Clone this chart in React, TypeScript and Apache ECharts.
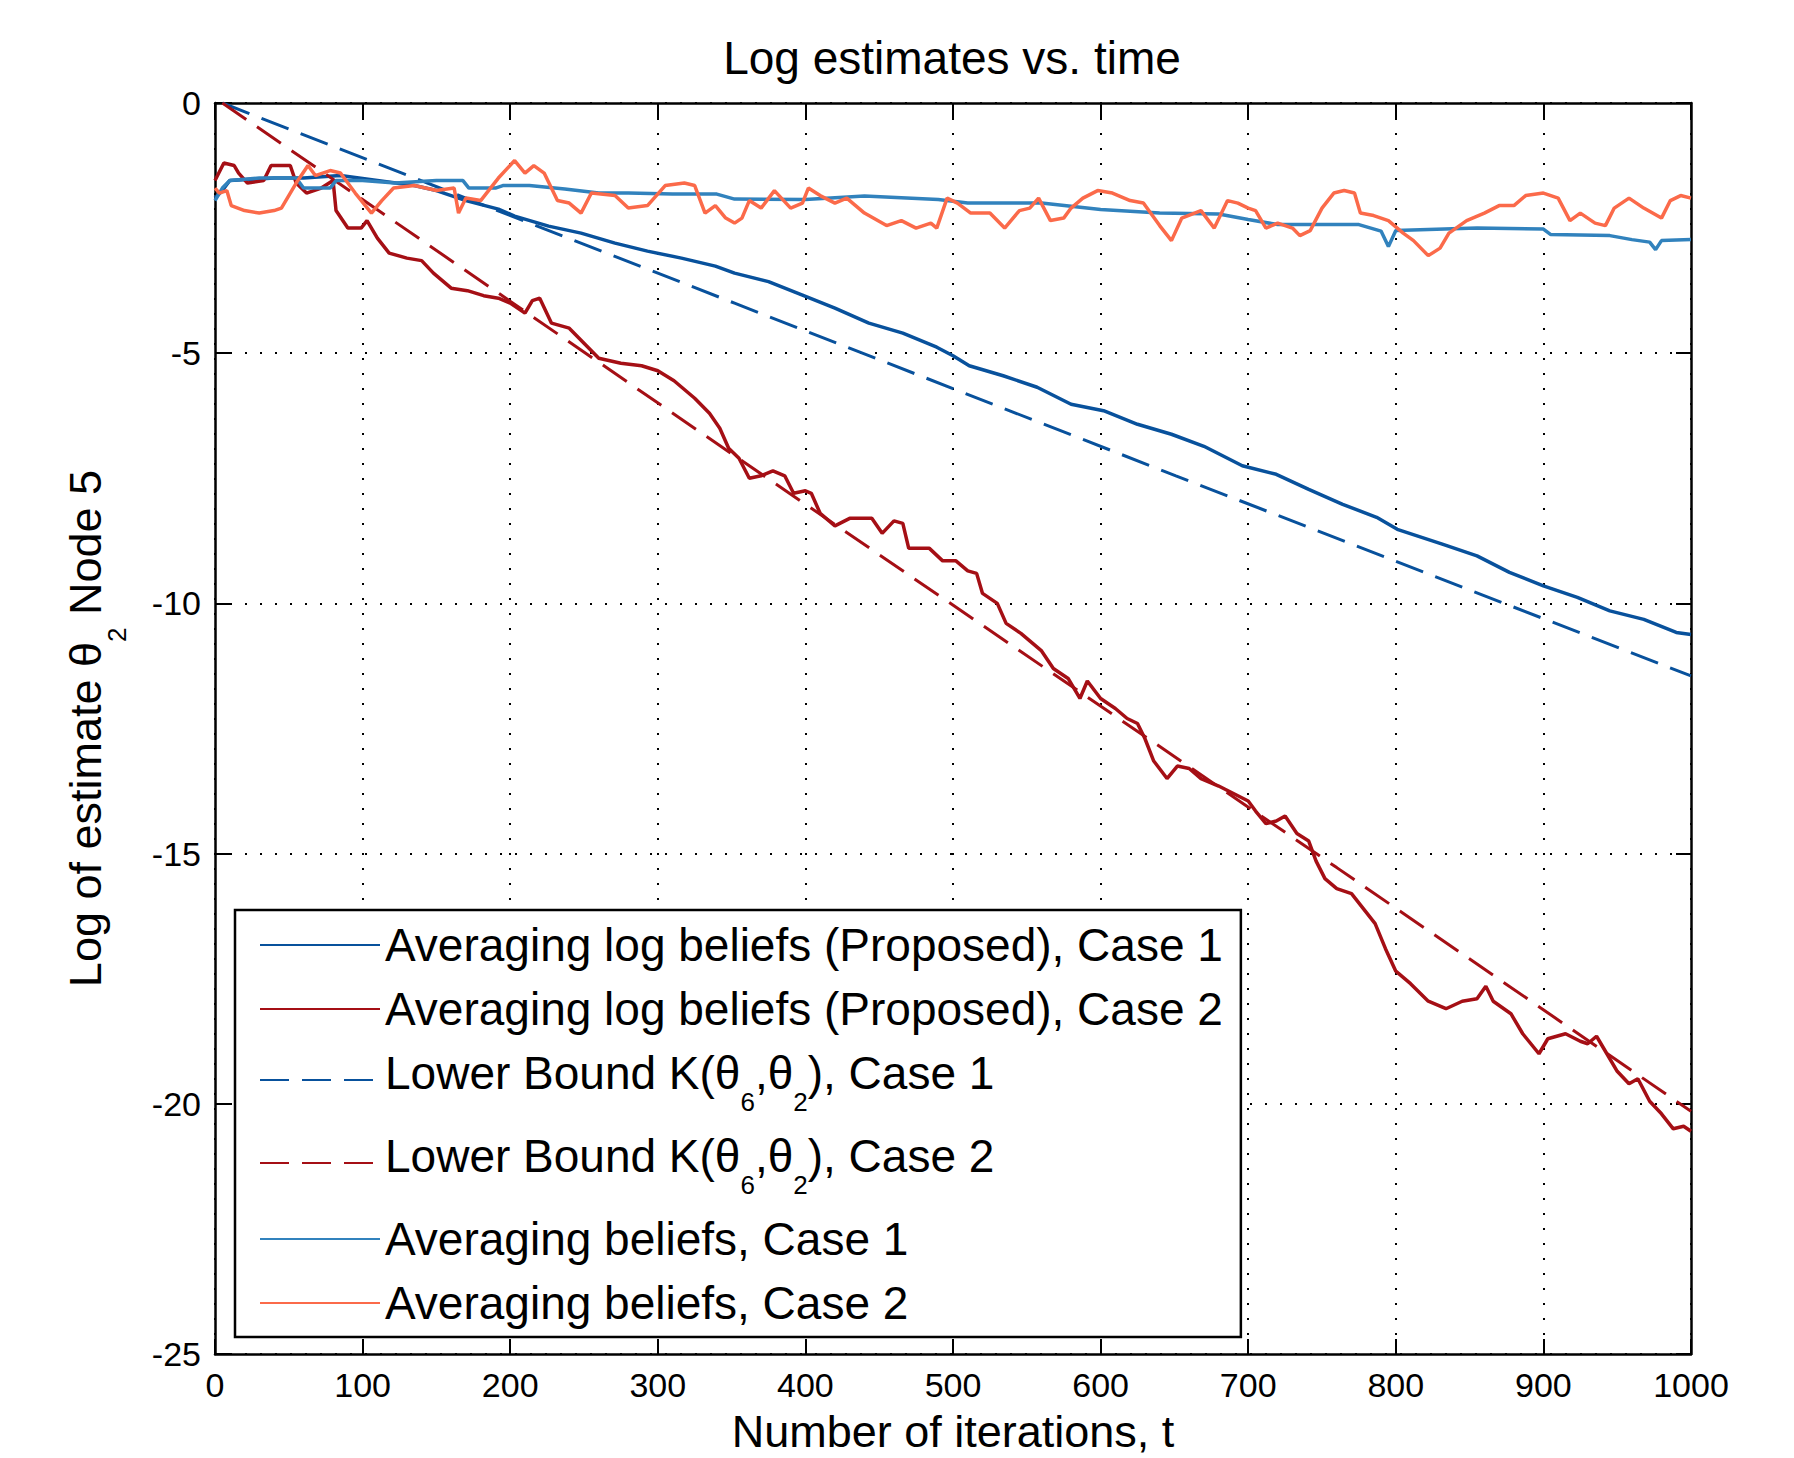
import React, { useEffect, useRef } from "react";
import * as echarts from "echarts";

const TITLE = "Log estimates vs. time";
const X_NAME = "Number of iterations, t";
const Y_NAME = "{m|Log of estimate θ}{s|2}{m| Node 5}";

const X_MIN = 0;
const X_MAX = 1000;
const X_STEP = 100;
const Y_MIN = -25;
const Y_MAX = 0;
const Y_STEP = 5;

const NAMES = [
  "Averaging log beliefs (Proposed), Case 1",
  "Averaging log beliefs (Proposed), Case 2",
  "Lower Bound K(θ6,θ2), Case 1",
  "Lower Bound K(θ6,θ2), Case 2",
  "Averaging beliefs, Case 1",
  "Averaging beliefs, Case 2",
];

const LEGEND_RICH: Record<string, string> = {
  [NAMES[0]]: "{m|Averaging log beliefs (Proposed), Case 1}",
  [NAMES[1]]: "{m|Averaging log beliefs (Proposed), Case 2}",
  [NAMES[2]]: "{n|Lower Bound K(θ}{s|6}{n|,θ}{s|2}{n|), Case 1}",
  [NAMES[3]]: "{n|Lower Bound K(θ}{s|6}{n|,θ}{s|2}{n|), Case 2}",
  [NAMES[4]]: "{m|Averaging beliefs, Case 1}",
  [NAMES[5]]: "{m|Averaging beliefs, Case 2}",
};

const COLORS = ["#08519c", "#a50f15", "#08519c", "#a50f15", "#3182bd", "#fb6a4a"];

// Averaging log beliefs (Proposed), Case 1
const logBeliefsCase1: [number, number][] = [
  [0, -1.9], [5, -1.75], [10, -1.55], [40, -1.5], [60, -1.5], [85, -1.45], [110, -1.55],
  [135, -1.65], [150, -1.75], [170, -1.95], [192, -2.12], [203, -2.26], [226, -2.46],
  [248, -2.6], [271, -2.8], [293, -2.96], [316, -3.1], [339, -3.26], [352, -3.4],
  [375, -3.57], [398, -3.84], [420, -4.1], [443, -4.4], [466, -4.6], [489, -4.88],
  [500, -5.05], [511, -5.25], [534, -5.45], [557, -5.68], [580, -6.02], [602, -6.15],
  [625, -6.42], [648, -6.62], [670, -6.86], [676, -6.95], [696, -7.25], [719, -7.42],
  [741, -7.72], [764, -8.02], [787, -8.28], [801, -8.52], [832, -8.82], [855, -9.05],
  [877, -9.38], [900, -9.65], [923, -9.88], [945, -10.15], [968, -10.32], [990, -10.58],
  [1000, -10.62],
];

// Averaging log beliefs (Proposed), Case 2
const logBeliefsCase2: [number, number][] = [
  [0, -1.55], [6, -1.2], [13, -1.25], [16, -1.4], [22, -1.6], [33, -1.55], [38, -1.25],
  [51, -1.25], [55, -1.6], [62, -1.8], [67, -1.75], [72, -1.7], [80, -1.55], [82, -2.15],
  [90, -2.5], [99, -2.5], [103, -2.35], [110, -2.7], [118, -3.0], [130, -3.1], [140, -3.15],
  [148, -3.4], [160, -3.7], [171, -3.75], [182, -3.85], [192, -3.9], [200, -4.0],
  [210, -4.2], [215, -3.95], [220, -3.9], [228, -4.4], [240, -4.5], [250, -4.8],
  [260, -5.1], [275, -5.2], [289, -5.25], [300, -5.35], [311, -5.55], [325, -5.9],
  [335, -6.2], [342, -6.5], [348, -6.9], [355, -7.1], [362, -7.5], [370, -7.45],
  [378, -7.35], [386, -7.45], [392, -7.8], [400, -7.75], [404, -7.8], [410, -8.2],
  [420, -8.45], [430, -8.3], [445, -8.3], [452, -8.6], [460, -8.35], [466, -8.4],
  [470, -8.9], [484, -8.9], [493, -9.15], [502, -9.15], [510, -9.35], [516, -9.4],
  [520, -9.8], [530, -10.0], [536, -10.4], [546, -10.6], [552, -10.75], [560, -10.95],
  [568, -11.3], [578, -11.5], [586, -11.9], [591, -11.55], [600, -11.9], [610, -12.1],
  [618, -12.3], [625, -12.4], [630, -12.7], [636, -13.15], [645, -13.5], [652, -13.25],
  [660, -13.3], [668, -13.5], [680, -13.65], [690, -13.8], [700, -13.95], [705, -14.15],
  [712, -14.4], [719, -14.35], [725, -14.25], [733, -14.6], [741, -14.75], [746, -15.15],
  [752, -15.5], [760, -15.7], [770, -15.8], [778, -16.1], [786, -16.4], [793, -16.9],
  [800, -17.35], [810, -17.6], [822, -17.95], [834, -18.1], [845, -17.95], [855, -17.9],
  [861, -17.65], [866, -17.95], [878, -18.2], [886, -18.6], [897, -19.0], [903, -18.7],
  [915, -18.6], [925, -18.75], [930, -18.8], [936, -18.65], [943, -19.0], [950, -19.35],
  [958, -19.6], [964, -19.5], [972, -19.95], [980, -20.2], [988, -20.5], [995, -20.45],
  [1000, -20.55],
];

// Lower Bound K(θ6,θ2), Case 1
const boundCase1: [number, number][] = [
  [5, 0], [352, -4.0], [651, -7.45], [1000, -11.45],
];

// Lower Bound K(θ6,θ2), Case 2
const boundCase2: [number, number][] = [
  [5, 0], [352, -7.05], [760, -15.28], [1000, -20.15],
];

// Averaging beliefs, Case 1
const beliefsCase1: [number, number][] = [
  [0, -1.95], [5, -1.7], [10, -1.55], [30, -1.5], [55, -1.5], [60, -1.7], [78, -1.7],
  [82, -1.55], [100, -1.55], [122, -1.6], [150, -1.55], [168, -1.55], [172, -1.7],
  [190, -1.7], [195, -1.65], [213, -1.65], [237, -1.72], [260, -1.8], [280, -1.8],
  [310, -1.82], [340, -1.82], [352, -1.92], [400, -1.93], [440, -1.86], [490, -1.93],
  [510, -2.0], [560, -2.0], [600, -2.13], [640, -2.2], [680, -2.22], [700, -2.33],
  [720, -2.43], [775, -2.43], [790, -2.56], [795, -2.87], [800, -2.55], [855, -2.5],
  [900, -2.52], [905, -2.63], [945, -2.65], [960, -2.73], [972, -2.78], [976, -2.93],
  [980, -2.75], [1000, -2.73],
];

// Averaging beliefs, Case 2
const beliefsCase2: [number, number][] = [
  [0, -1.7], [3, -1.8], [8, -1.75], [11, -2.05], [20, -2.15], [30, -2.2], [40, -2.15],
  [45, -2.1], [55, -1.6], [63, -1.25], [68, -1.45], [78, -1.35], [85, -1.4], [95, -1.8],
  [106, -2.2], [113, -1.95], [121, -1.7], [135, -1.65], [150, -1.75], [162, -1.7],
  [165, -2.2], [170, -1.9], [180, -1.95], [192, -1.5], [203, -1.15], [210, -1.4],
  [216, -1.25], [223, -1.4], [232, -1.95], [240, -2.0], [248, -2.2], [255, -1.8],
  [271, -1.85], [280, -2.1], [293, -2.05], [305, -1.65], [318, -1.6], [325, -1.65],
  [332, -2.2], [339, -2.05], [346, -2.3], [352, -2.4], [357, -2.3], [362, -1.95],
  [370, -2.1], [379, -1.75], [390, -2.1], [398, -2.0], [402, -1.7], [410, -1.85],
  [420, -2.0], [428, -1.9], [440, -2.2], [455, -2.45], [465, -2.35], [475, -2.5],
  [485, -2.4], [489, -2.5], [496, -1.9], [503, -2.0], [512, -2.2], [525, -2.2],
  [535, -2.5], [545, -2.15], [552, -2.1], [558, -1.9], [566, -2.35], [575, -2.3],
  [580, -2.1], [588, -1.9], [598, -1.75], [608, -1.8], [620, -1.95], [629, -2.0],
  [640, -2.45], [648, -2.75], [655, -2.3], [668, -2.15], [677, -2.5], [686, -1.95],
  [693, -2.0], [700, -2.1], [705, -2.15], [712, -2.5], [720, -2.4], [730, -2.5],
  [735, -2.65], [742, -2.55], [750, -2.1], [758, -1.8], [765, -1.75], [772, -1.8],
  [776, -2.2], [785, -2.25], [795, -2.35], [805, -2.6], [812, -2.75], [822, -3.05],
  [830, -2.9], [836, -2.6], [848, -2.35], [860, -2.2], [870, -2.05], [880, -2.05],
  [888, -1.85], [900, -1.8], [910, -1.9], [918, -2.35], [925, -2.2], [935, -2.4],
  [942, -2.45], [948, -2.1], [958, -1.9], [968, -2.1], [980, -2.3], [986, -1.95],
  [993, -1.85], [1000, -1.9],
];

const SERIES_DATA = [
  logBeliefsCase1,
  logBeliefsCase2,
  boundCase1,
  boundCase2,
  beliefsCase1,
  beliefsCase2,
];
const DASHED = [false, false, true, true, false, false];

const FONT = "'Liberation Sans', Arial, Helvetica, sans-serif";

const RICH = {
  m: { fontSize: 46, color: "#000", fontFamily: FONT, verticalAlign: "top" },
  n: { fontSize: 46, color: "#000", fontFamily: FONT, verticalAlign: "top", padding: [5, 0, 0, 0] },
  s: { fontSize: 26, color: "#000", fontFamily: FONT, padding: [44, 0, 0, 0], verticalAlign: "top" },
};

const NAME_RICH = {
  m: { fontSize: 45, color: "#000", fontFamily: FONT, verticalAlign: "top" },
  s: { fontSize: 26, color: "#000", fontFamily: FONT, padding: [41, 0, 0, 0], verticalAlign: "top" },
};

function buildOption(): any {
  const black = "#000";
  const axisLine = { show: true, onZero: false, lineStyle: { color: black, width: 2.5 } };
  const axisTick = { show: true, inside: true, length: 15, lineStyle: { color: black, width: 2 } };
  const dotted = { show: true, lineStyle: { color: black, width: 2, type: [2, 13] } };
  const tickLabel = {
    show: true,
    fontSize: 34,
    color: black,
    margin: 14,
    fontFamily: FONT,
    formatter: (v: number) => String(v),
  };
  return {
    animation: false,
    backgroundColor: "#fff",
    textStyle: { fontFamily: FONT, color: black },
    title: {
      text: TITLE,
      left: 947,
      top: 30,
      textAlign: "center",
      textStyle: { fontSize: 46, fontWeight: "normal", color: black, fontFamily: FONT },
    },
    grid: { left: 215, right: 103, top: 103, bottom: 104, containLabel: false, outerBoundsMode: "none" },
    legend: {
      orient: "vertical",
      left: 235,
      top: 910,
      padding: [12, 18, 11, 24],
      itemWidth: 120,
      itemHeight: 1,
      itemGap: 18,
      backgroundColor: "#fff",
      borderColor: black,
      borderWidth: 2.5,
      borderRadius: 0,
      data: NAMES,
      itemStyle: { opacity: 0 },
      formatter: (name: string) => LEGEND_RICH[name] || name,
      textStyle: { fontSize: 46, color: black, fontFamily: FONT, rich: RICH },
    },
    xAxis: [
      {
        type: "value",
        min: X_MIN,
        max: X_MAX,
        interval: X_STEP,
        name: X_NAME,
        nameLocation: "middle",
        nameGap: 55,
        nameTextStyle: { fontSize: 45, color: black, fontFamily: FONT },
        axisLine,
        axisTick,
        axisLabel: tickLabel,
        splitLine: dotted,
      },
      {
        type: "value",
        position: "top",
        min: X_MIN,
        max: X_MAX,
        interval: X_STEP,
        axisLine,
        axisTick,
        axisLabel: { show: false },
        splitLine: { show: false },
      },
    ],
    yAxis: [
      {
        type: "value",
        min: Y_MIN,
        max: Y_MAX,
        interval: Y_STEP,
        name: Y_NAME,
        nameLocation: "middle",
        nameGap: 85,
        nameTextStyle: { fontSize: 45, color: black, fontFamily: FONT, rich: NAME_RICH },
        axisLine,
        axisTick,
        axisLabel: tickLabel,
        splitLine: dotted,
      },
      {
        type: "value",
        position: "right",
        min: Y_MIN,
        max: Y_MAX,
        interval: Y_STEP,
        axisLine,
        axisTick,
        axisLabel: { show: false },
        splitLine: { show: false },
      },
    ],
    series: SERIES_DATA.map((data, i) => ({
      name: NAMES[i],
      type: "line",
      xAxisIndex: 0,
      yAxisIndex: 0,
      data,
      symbol: "none",
      showSymbol: false,
      color: COLORS[i],
      lineStyle: {
        color: COLORS[i],
        width: DASHED[i] ? 3 : 3.5,
        type: DASHED[i] ? [29, 13] : "solid",
      },
      emphasis: { disabled: true },
      z: 2 + i,
    })),
  };
}

export default function App() {
  const ref = useRef<HTMLDivElement>(null);
  useEffect(() => {
    document.body.style.margin = "0";
    if (!ref.current) return;
    const chart = echarts.init(ref.current, null, { renderer: "svg" });
    chart.setOption(buildOption());
    return () => chart.dispose();
  }, []);
  return <div ref={ref} style={{ width: 1794, height: 1458 }} />;
}
